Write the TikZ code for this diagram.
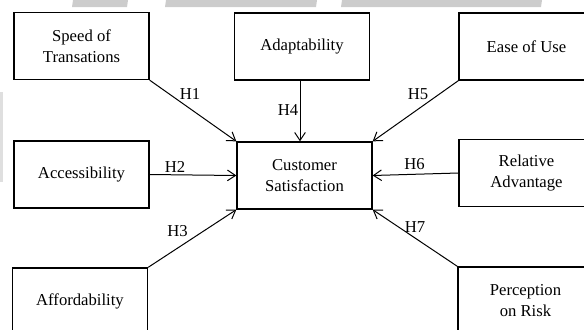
\documentclass[tikz,border=0pt]{standalone}
\usepackage{fontspec}
\setmainfont{Liberation Serif}
\usetikzlibrary{arrows.meta}

\tikzset{every picture/.style={line width=0.75pt}}
\tikzset{
  varbox/.style={draw, line width=1pt, minimum width=101.25pt, minimum height=50.25pt,
    inner sep=0.75pt, align=center, font=\fontsize{12.5}{16}\selectfont},
  hlabel/.style={inner sep=0.75pt, font=\fontsize{12.5}{15}\selectfont},
  hyp/.style={-{Straight Barb[length=6pt,width=8pt]}}
}

\begin{document}
\begin{tikzpicture}[x=0.75pt,y=0.75pt,yscale=-1,xscale=1]
\useasboundingbox (0,0) rectangle (584,329);
\clip (0,0) rectangle (584,329);

% scan marks
\fill [gray!40] (73,0) -- (128,0) -- (127,7) -- (72,7) -- cycle ;
\fill [gray!40] (166,0) -- (317,0) -- (316,7) -- (165,7) -- cycle ;
\fill [gray!40] (342,0) -- (542,0) -- (541,7) -- (341,7) -- cycle ;
\fill [gray!25] (0,92) rectangle (3,182) ;

% constructs
\draw (81.5,46) node (speed) [varbox] {Speed of\\Transations};
\draw (302,46.5) node (adapt) [varbox] {Adaptability};
\draw (526.5,46.5) node (ease) [varbox] {Ease of Use};
\draw (81.5,174.5) node (access) [varbox] {Accessibility};
\draw (304.5,175.5) node (cust) [varbox] {Customer\\Satisfaction};
\draw (526.5,173) node (relat) [varbox] {Relative\\Advantage};
\draw (80,301.5) node (afford) [varbox] {Affordability};
\draw (525.5,300.5) node (percep) [varbox] {Perception\\on Risk};

% hypotheses
\draw [hyp] (speed.south east) -- (cust.north west) ;
\draw [hyp] ([xshift=-1.5pt]adapt.south) -- ([xshift=-1.5pt]adapt.south |- cust.north) ;
\draw [hyp] (ease.south west) -- (cust.north east) ;
\draw [hyp] (access.east) -- (cust.west) ;
\draw [hyp] (relat.west) -- (cust.east) ;
\draw [hyp] (afford.north east) -- (cust.south west) ;
\draw [hyp] (percep.north west) -- (cust.south east) ;

\draw (190,94) node (h1) [hlabel] {H1};
\draw (175,167) node (h2) [hlabel] {H2};
\draw (177.5,231.5) node (h3) [hlabel] {H3};
\draw (288,110) node (h4) [hlabel] {H4};
\draw (418,94) node (h5) [hlabel] {H5};
\draw (414.5,164) node (h6) [hlabel] {H6};
\draw (415,227) node (h7) [hlabel] {H7};

\end{tikzpicture}
\end{document}
